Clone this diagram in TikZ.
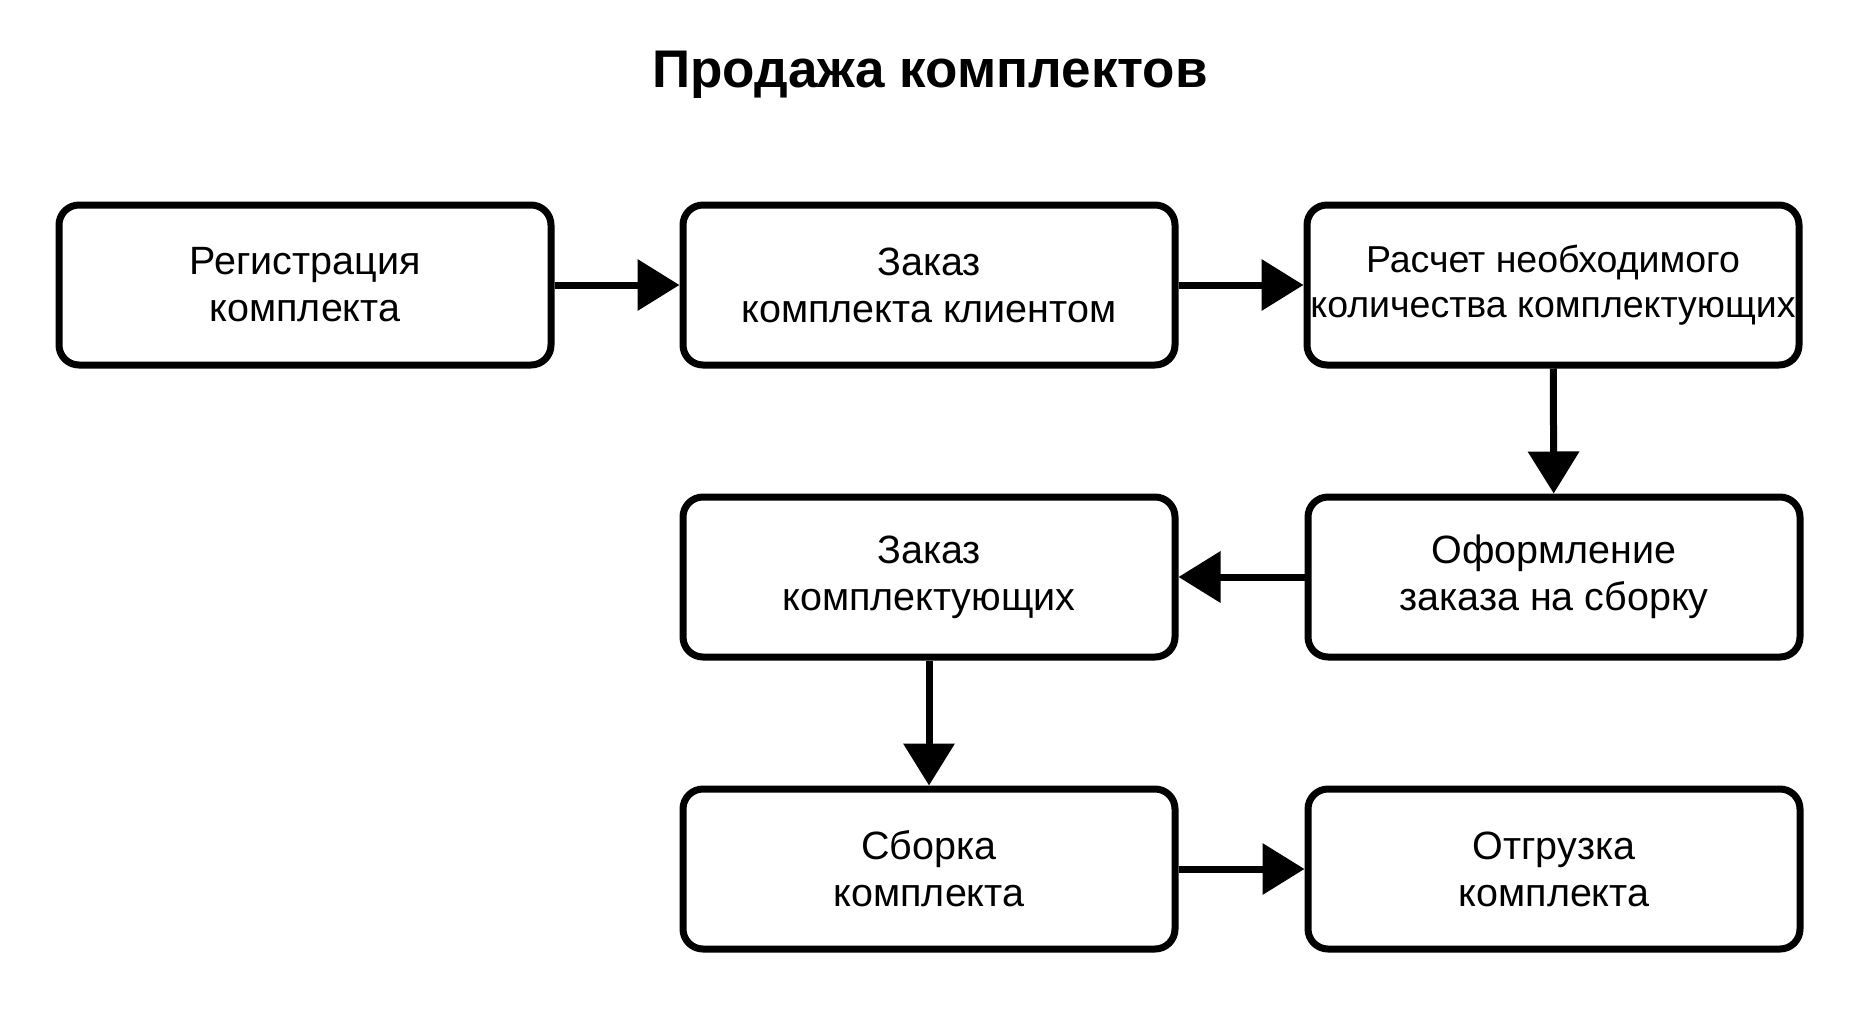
\documentclass[tikz,border=0pt]{standalone}
\usepackage{fontspec}
\setmainfont{Liberation Sans}
\usetikzlibrary{arrows.meta}

\begin{document}
\begin{tikzpicture}[x=1pt, y=-1pt,
  stage/.style={draw, rectangle, rounded corners=20pt, line width=7pt, minimum width=492pt, minimum height=160pt, align=center, font=\fontsize{39.5}{47}\selectfont},
  flow/.style={line width=7pt, -{Triangle[length=42pt, width=50pt]}}]
  \useasboundingbox (0,0) rectangle (1860,1009);
  \node[font=\bfseries\fontsize{53}{60}\selectfont] (title) at (930,75) {Продажа комплектов};
  \node[stage] (reg) at (305,285) {Регистрация\\комплекта};
  \node[stage] (order) at (929,285) {Заказ\\комплекта клиентом};
  \node[stage, font=\fontsize{37.5}{45}\selectfont] (calc) at (1553,285) {Расчет необходимого\\\makebox[0pt]{количества комплектующих}};
  \node[stage] (form) at (1554,577) {Оформление\\заказа на сборку};
  \node[stage] (parts) at (929,577) {Заказ\\комплектующих};
  \node[stage] (build) at (929,869) {Сборка\\комплекта};
  \node[stage] (ship) at (1554,869) {Отгрузка\\комплекта};
  \draw[flow] (reg) -- (order);
  \draw[flow] (order) -- (calc);
  \draw[flow] (calc) -- (form);
  \draw[flow] (form) -- (parts);
  \draw[flow] (parts) -- (build);
  \draw[flow] (build) -- (ship);
\end{tikzpicture}
\end{document}
